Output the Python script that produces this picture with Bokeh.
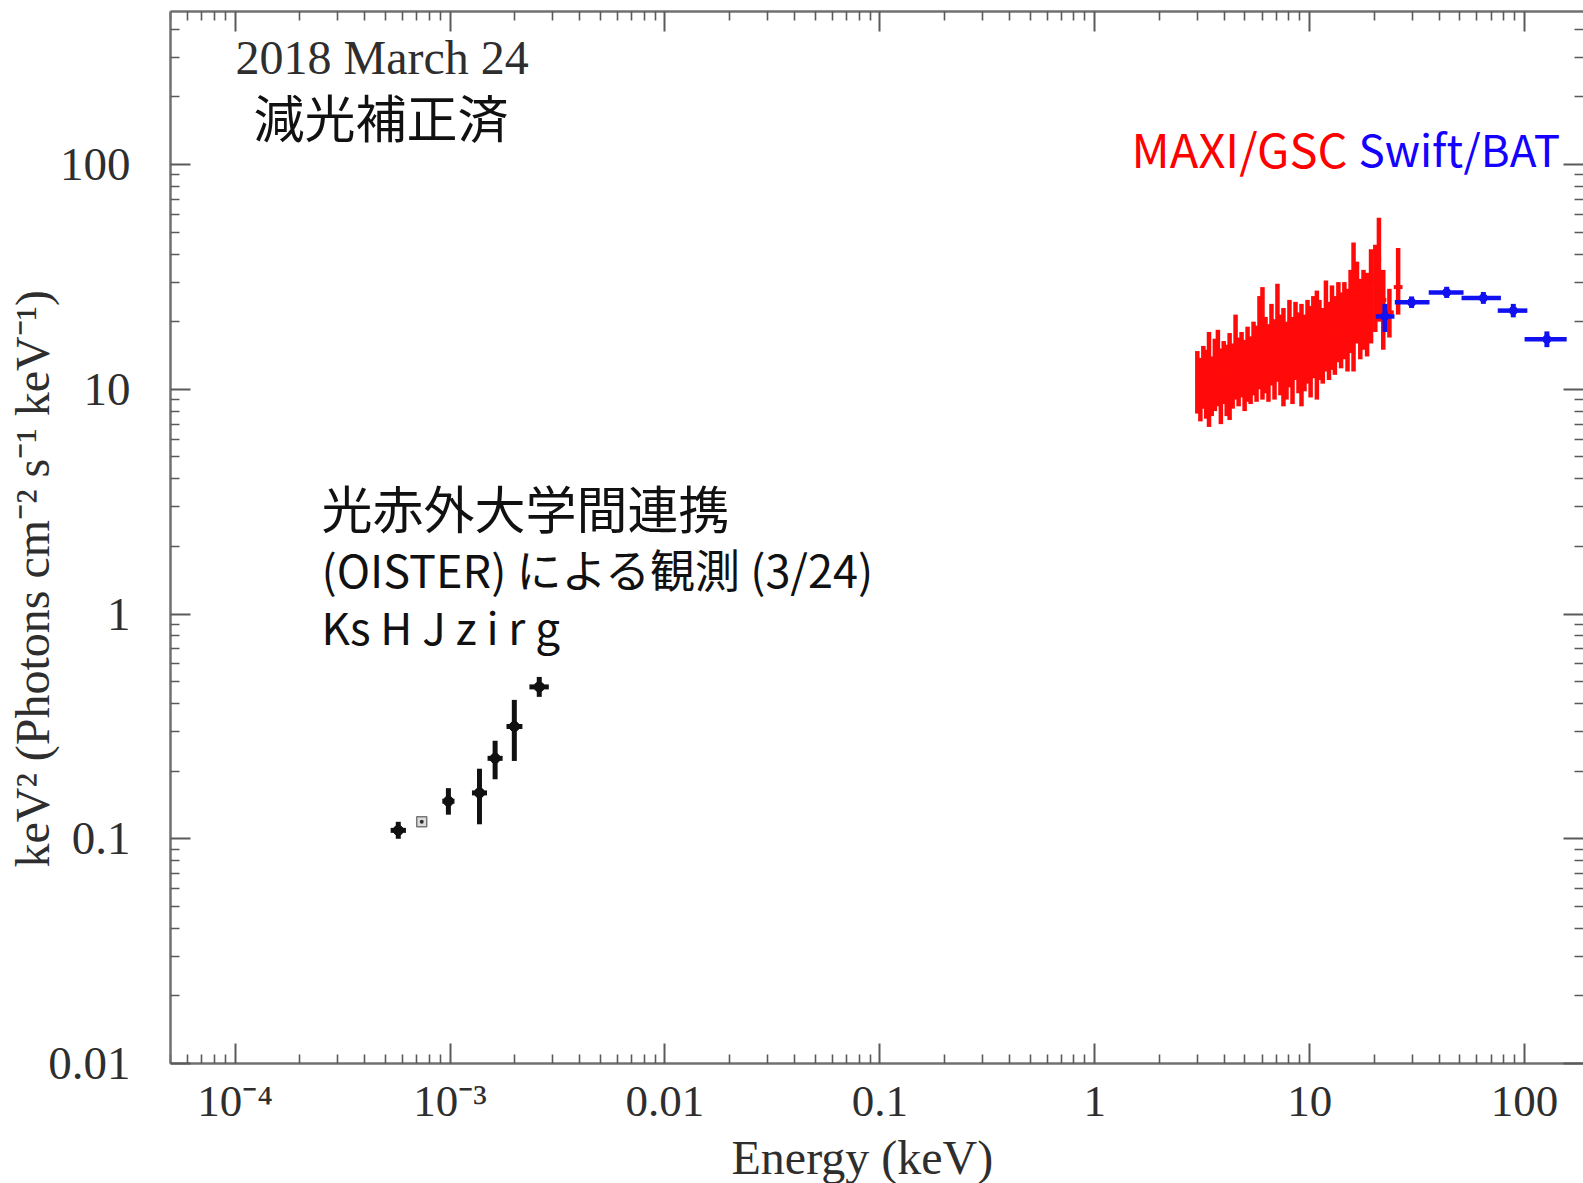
import math

from bokeh.plotting import figure
from bokeh.models import (ColumnDataSource, FixedTicker, Label, LogAxis,
                          Range1d, CustomJSTickFormatter, Title)
from bokeh.embed import file_html
from bokeh.resources import INLINE

# ---------------------------------------------------------------------------
# Broadband nu-F-nu spectrum, 2018 March 24
# ---------------------------------------------------------------------------

# OISTER optical / near-infrared photometry (Ks, J, z, i, r, g)
opt_band = ["Ks", "J", "z", "i", "r", "g"]
opt_e = [5.74e-4, 9.82e-4, 1.37e-3, 1.62e-3, 1.99e-3, 2.60e-3]
opt_e_lo = [5.29e-4, 9.20e-4, 1.264e-3, 1.494e-3, 1.83e-3, 2.34e-3]
opt_e_hi = [6.23e-4, 1.048e-3, 1.485e-3, 1.756e-3, 2.17e-3, 2.88e-3]
opt_f = [0.109, 0.147, 0.160, 0.228, 0.316, 0.474]
opt_f_lo = [0.100, 0.128, 0.116, 0.184, 0.222, 0.428]
opt_f_hi = [0.119, 0.168, 0.205, 0.273, 0.415, 0.525]

# H band point
h_e = [7.38e-4]
h_f = [0.119]

# MAXI/GSC spectrum
maxi_e = [3.00, 3.10, 3.20, 3.30, 3.40, 3.50, 3.62, 3.74, 3.86, 3.98,
          4.11, 4.24, 4.38, 4.52, 4.67, 4.82, 4.98, 5.14, 5.31, 5.48,
          5.66, 5.84, 6.03, 6.23, 6.43, 6.64, 6.86, 7.08, 7.31, 7.55,
          7.80, 8.05, 8.32, 8.59, 8.87, 9.16, 9.46, 9.77, 10.1, 10.4,
          10.8, 11.1, 11.5, 11.9, 12.3, 12.7, 13.1, 13.6, 14.0, 14.5,
          15.0, 15.5, 16.0, 16.6, 17.2, 17.8, 18.5, 19.3, 20.2, 21.0,
          22.0, 23.5, 25.8]
maxi_f = [11.2, 10.5, 12.0, 11.0, 12.6, 10.8, 12.2, 13.0, 11.4, 12.5,
          11.8, 13.4, 12.0, 14.6, 12.8, 13.5, 12.4, 14.2, 13.0, 15.0,
          13.8, 16.8, 14.0, 15.5, 14.2, 17.5, 14.8, 18.0, 15.2, 16.4,
          14.6, 17.2, 15.0, 18.6, 16.0, 17.0, 15.4, 18.2, 16.5, 19.0,
          17.0, 18.4, 16.8, 20.5, 17.6, 20.0, 18.5, 21.5, 19.0, 22.0,
          19.5, 23.5, 20.5, 28.0, 21.0, 24.0, 22.5, 26.0, 30.0, 38.0,
          25.0, 22.0, 28.5]
maxi_f_lo = [7.8, 7.2, 8.2, 7.4, 6.8, 7.6, 8.0, 8.4, 7.0, 8.6,
             7.6, 7.3, 8.2, 9.0, 8.4, 9.2, 8.0, 8.8, 8.6, 9.4,
             8.8, 10.0, 9.0, 9.6, 8.8, 10.4, 9.0, 10.8, 9.4, 8.4,
             9.0, 10.2, 8.6, 11.0, 9.6, 8.4, 9.8, 10.6, 9.2, 11.2,
             9.0, 11.0, 10.6, 12.0, 11.0, 12.2, 11.6, 13.2, 12.4, 13.6,
             12.0, 14.5, 12.0, 16.0, 13.6, 15.0, 14.0, 16.0, 18.0, 20.0,
             15.0, 17.0, 21.5]
maxi_f_hi = [14.8, 13.8, 15.6, 15.0, 18.0, 14.0, 16.8, 18.4, 15.2, 16.4,
             15.8, 17.8, 16.0, 21.5, 17.0, 18.0, 16.6, 19.0, 17.2, 20.0,
             19.2, 26.0, 28.5, 21.0, 19.5, 24.0, 20.5, 29.5, 21.5, 23.0,
             20.0, 25.0, 21.0, 24.5, 22.0, 24.0, 21.5, 25.0, 23.5, 26.0,
             27.5, 25.0, 23.0, 30.5, 24.5, 29.0, 26.0, 30.0, 27.0, 30.0,
             28.0, 34.0, 45.0, 37.0, 31.0, 34.0, 33.0, 42.0, 44.0, 58.0,
             34.0, 28.0, 42.5]

# Swift/BAT spectrum
bat_e = [22.4, 29.8, 43.4, 64.3, 88.6, 127.0]
bat_e_lo = [20.3, 24.9, 35.8, 50.9, 75.0, 100.0]
bat_e_hi = [24.8, 36.1, 52.0, 77.6, 103.0, 157.0]
bat_f = [21.1, 24.4, 27.0, 25.5, 22.4, 16.7]
bat_f_lo = [18.0, 23.0, 25.5, 24.0, 20.9, 15.4]
bat_f_hi = [24.0, 25.9, 28.6, 27.1, 24.0, 18.1]

# Axis ticks and labels
x_tick_values = [1e-4, 1e-3, 0.01, 0.1, 1, 10, 100]
x_tick_labels = ["10\u207b\u2074", "10\u207b\u00b3", "0.01", "0.1", "1", "10", "100"]
y_tick_values = [0.01, 0.1, 1, 10, 100]
y_tick_labels = ["0.01", "0.1", "1", "10", "100"]

# ---------------------------------------------------------------------------

# MAXI bin edges: halfway (in log) between neighbouring bin centres
maxi_edges = [math.sqrt(a * b) for a, b in zip(maxi_e[:-1], maxi_e[1:])]
maxi_e_lo = [maxi_e[0] ** 2 / maxi_edges[0]] + maxi_edges
maxi_e_hi = maxi_edges + [maxi_e[-1] ** 2 / maxi_edges[-1]]

opt_src = ColumnDataSource(dict(e=opt_e, e_lo=opt_e_lo, e_hi=opt_e_hi,
                                f=opt_f, f_lo=opt_f_lo, f_hi=opt_f_hi))
maxi_src = ColumnDataSource(dict(e=maxi_e, e_lo=maxi_e_lo, e_hi=maxi_e_hi,
                                 f=maxi_f, f_lo=maxi_f_lo, f_hi=maxi_f_hi))
bat_src = ColumnDataSource(dict(e=bat_e, e_lo=bat_e_lo, e_hi=bat_e_hi,
                                f=bat_f, f_lo=bat_f_lo, f_hi=bat_f_hi))

W, H = 1583, 1183
p = figure(width=W, height=H, x_axis_type="log", y_axis_type="log",
           x_range=Range1d(5e-5, 188), y_range=Range1d(0.01, 480),
           output_backend="svg", toolbar_location=None,
           min_border_left=170, min_border_right=0,
           min_border_top=11, min_border_bottom=118)
p.outline_line_color = None
p.background_fill_color = "white"
p.border_fill_color = "white"
p.xgrid.visible = False
p.ygrid.visible = False

AXIS_COLOR = "#707070"
TICK_COLOR = "#5a5a5a"
TEXT_COLOR = "#2e2e2e"
SERIF = "Liberation Serif"
JP = "Noto Sans CJK JP"

x_minor = [m * 10.0 ** k for k in range(-5, 3) for m in range(2, 10)]
y_minor = [m * 10.0 ** k for k in range(-2, 3) for m in range(2, 10)]
x_ticker = FixedTicker(ticks=x_tick_values, minor_ticks=x_minor)
y_ticker = FixedTicker(ticks=y_tick_values, minor_ticks=y_minor)


def style_axis(ax):
    ax.axis_line_color = AXIS_COLOR
    ax.axis_line_width = 2.5
    ax.major_tick_in = 20
    ax.major_tick_out = 0
    ax.minor_tick_in = 9
    ax.minor_tick_out = 0
    ax.major_tick_line_color = TICK_COLOR
    ax.major_tick_line_width = 2
    ax.minor_tick_line_color = TICK_COLOR
    ax.minor_tick_line_width = 1.6
    ax.major_label_text_font = SERIF
    ax.major_label_text_font_size = "45px"
    ax.major_label_text_color = TEXT_COLOR


xa = p.xaxis[0]
xa.ticker = x_ticker
style_axis(xa)
xa.major_label_overrides = dict(zip(x_tick_values, x_tick_labels))
xa.major_label_standoff = 12

ya = p.yaxis[0]
ya.ticker = y_ticker
style_axis(ya)
ya.major_label_text_font_size = "47px"
ya.major_label_overrides = dict(zip(y_tick_values, y_tick_labels))
ya.major_label_standoff = 40

blank = CustomJSTickFormatter(code="return ''")
top = LogAxis(ticker=x_ticker, formatter=blank)
style_axis(top)
top.major_label_text_font_size = "0px"
top.major_label_standoff = 0
p.add_layout(top, "above")

right = LogAxis(ticker=y_ticker, formatter=blank)
style_axis(right)
right.axis_line_color = None
right.major_label_text_font_size = "0px"
right.major_label_standoff = 0
p.add_layout(right, "right")

# axis titles (offsets measured from the frame's left / bottom edge)
p.add_layout(Title(text="Energy (keV)", align="left", offset=561,
                   standoff=0, text_font=SERIF, text_font_size="48px",
                   text_font_style="normal", text_color=TEXT_COLOR), "below")
p.add_layout(Title(text="keV\u00b2 (Photons cm\u207b\u00b2 s\u207b\u00b9 keV\u207b\u00b9)",
                   align="left", offset=196, standoff=-26,
                   text_font=SERIF, text_font_size="48px",
                   text_font_style="normal", text_color=TEXT_COLOR), "left")

# --- data ----------------------------------------------------------------
RED = "#ff0a0a"
BLUE = "#1010f0"
BLACK = "#111111"

p.segment(x0="e", y0="f_lo", x1="e", y1="f_hi", source=maxi_src,
          line_color=RED, line_width=4.5)
p.segment(x0="e_lo", y0="f", x1="e_hi", y1="f", source=maxi_src,
          line_color=RED, line_width=4)

p.segment(x0="e", y0="f_lo", x1="e", y1="f_hi", source=bat_src,
          line_color=BLUE, line_width=5)
p.segment(x0="e_lo", y0="f", x1="e_hi", y1="f", source=bat_src,
          line_color=BLUE, line_width=4.5)
p.scatter(x="e", y="f", source=bat_src, marker="circle", size=8,
          fill_color=BLUE, line_color=BLUE)

p.segment(x0="e", y0="f_lo", x1="e", y1="f_hi", source=opt_src,
          line_color=BLACK, line_width=5)
p.segment(x0="e_lo", y0="f", x1="e_hi", y1="f", source=opt_src,
          line_color=BLACK, line_width=5)
p.scatter(x="e", y="f", source=opt_src, marker="circle", size=10,
          fill_color=BLACK, line_color=BLACK)
p.scatter(x=h_e, y=h_f, marker="square", size=10, fill_color="#dddddd",
          line_color="#777777", line_width=1.5)
p.scatter(x=h_e, y=h_f, marker="circle", size=4, fill_color="#333333",
          line_color=None)

# --- texts (screen offsets from the frame's lower-left corner) --------------
FRAME_LEFT, FRAME_BOTTOM = 170, 1065
SHIFT = 19  # rendered alphabetic baseline sits this much below the anchor


def add_text(text, cx, cy, font, size, color=TEXT_COLOR):
    p.add_layout(Label(x=cx - FRAME_LEFT, y=FRAME_BOTTOM - cy + SHIFT,
                       x_units="screen", y_units="screen", text=text,
                       text_font=font, text_font_size=size,
                       text_color=color, text_align="left",
                       text_baseline="alphabetic"))


add_text("2018 March 24", 235, 78, SERIF, "48px")
add_text("減光補正済", 253, 136, JP, "51px", color="#111111")
add_text("MAXI/GSC", 1131, 168, JP, "47px", color="#ff0000")
add_text("Swift/BAT", 1358, 168, JP, "44px", color="#1400ff")
add_text("光赤外大学間連携", 321, 527, JP, "51px", color="#111111")
add_text("(OISTER) による観測 (3/24)", 321, 589, JP, "45px", color="#111111")
add_text("Ks H J z i r g", 321, 646, JP, "44px", color="#111111")

with open("out.html", "w") as fh:
    fh.write(file_html(p, INLINE))
